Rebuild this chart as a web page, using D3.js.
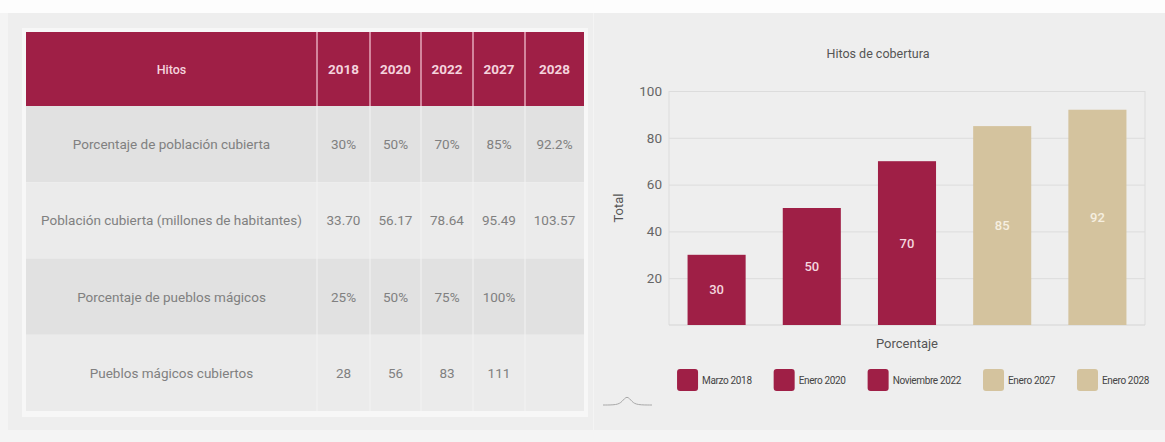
<!DOCTYPE html>
<html>
<head>
<meta charset="utf-8">
<script src="https://cdn.jsdelivr.net/npm/d3@7"></script>
<style>
  html, body { margin: 0; padding: 0; background: #f4f4f4; }
  svg { display: block; font-family: Roboto, "Open Sans", sans-serif; }
</style>
</head>
<body>
<svg id="chart" width="1165" height="442"></svg>
<script>
// ---------- DATA ----------
const tableHeader = "Hitos";
const years = ["2018", "2020", "2022", "2027", "2028"];
const rowLabels = [
  "Porcentaje de población cubierta",
  "Población cubierta (millones de habitantes)",
  "Porcentaje de pueblos mágicos",
  "Pueblos mágicos cubiertos"
];
const rowPoblacionPct = ["30%", "50%", "70%", "85%", "92.2%"];
const rowPoblacionMill = ["33.70", "56.17", "78.64", "95.49", "103.57"];
const rowPueblosPct = ["25%", "50%", "75%", "100%", ""];
const rowPueblosNum = ["28", "56", "83", "111", ""];

const chartTitle = "Hitos de cobertura";
const categories = ["Marzo 2018", "Enero 2020", "Noviembre 2022", "Enero 2027", "Enero 2028"];
const values = [30, 50, 70, 85, 92];
const yTicks = [20, 40, 60, 80, 100];
const xAxisTitle = "Porcentaje";
const yAxisTitle = "Total";

// ---------- STYLE / LAYOUT ----------
const MAROON = "#9f1f46";
const TAN = "#d4c39e";
const barColor = d3.scaleOrdinal().domain(categories)
  .range([MAROON, MAROON, MAROON, TAN, TAN]);

const svg = d3.select("#chart");

// page background: white strip at top
svg.append("rect").attr("x", 0).attr("y", 0).attr("width", 1165).attr("height", 13).attr("fill", "#fdfdfd");

// panels
svg.append("rect").attr("x", 8).attr("y", 13).attr("width", 585).attr("height", 417).attr("fill", "#eeeeee");
svg.append("rect").attr("x", 594).attr("y", 13).attr("width", 571).attr("height", 417).attr("fill", "#eeeeee");

// ---------- TABLE ----------
const rows = [rowPoblacionPct, rowPoblacionMill, rowPueblosPct, rowPueblosNum];
const colEdges = [26, 317, 370, 421, 473, 525, 584];
const headerTop = 32, headerBottom = 106, tableBottom = 411;

// white frame
svg.append("rect").attr("x", 22).attr("y", 28).attr("width", 566).attr("height", 389)
  .attr("fill", "#f7f7f7");

const rowY = d3.scaleBand().domain(d3.range(rows.length)).range([headerBottom, tableBottom]);

const tbl = svg.append("g");
// header
tbl.append("rect").attr("x", colEdges[0]).attr("y", headerTop)
  .attr("width", colEdges[6] - colEdges[0]).attr("height", headerBottom - headerTop)
  .attr("fill", MAROON);
tbl.selectAll(".hsep").data(colEdges.slice(1, 6)).enter().append("line")
  .attr("x1", d => d).attr("x2", d => d).attr("y1", headerTop).attr("y2", headerBottom)
  .attr("stroke", "#e6a9bb").attr("stroke-width", 1.5);

tbl.append("text").attr("x", (colEdges[0] + colEdges[1]) / 2).attr("y", (headerTop + headerBottom) / 2)
  .attr("text-anchor", "middle").attr("dominant-baseline", "central")
  .attr("font-size", 12.5).attr("font-weight", 500).attr("fill", "#f4d3dd").text(tableHeader);
tbl.selectAll(".yr").data(years).enter().append("text")
  .attr("x", (d, i) => (colEdges[i + 1] + colEdges[i + 2]) / 2)
  .attr("y", (headerTop + headerBottom) / 2)
  .attr("text-anchor", "middle").attr("dominant-baseline", "central")
  .attr("font-size", 13.5).attr("font-weight", 700).attr("fill", "#f4d3dd").text(d => d);

// body rows
const rowG = tbl.selectAll(".row").data(rows).enter().append("g");
rowG.append("rect").attr("x", colEdges[0]).attr("y", (d, i) => rowY(i))
  .attr("width", colEdges[6] - colEdges[0]).attr("height", rowY.bandwidth())
  .attr("fill", (d, i) => i % 2 === 0 ? "#e1e1e1" : "#ebebeb");
rowG.append("text").attr("x", (colEdges[0] + colEdges[1]) / 2)
  .attr("y", (d, i) => rowY(i) + rowY.bandwidth() / 2)
  .attr("text-anchor", "middle").attr("dominant-baseline", "central")
  .attr("font-size", 13.5).attr("fill", "#808080").text((d, i) => rowLabels[i]);
rowG.each(function (d, i) {
  d3.select(this).selectAll("text.v").data(d).enter().append("text").attr("class", "v")
    .attr("x", (v, j) => (colEdges[j + 1] + colEdges[j + 2]) / 2)
    .attr("y", rowY(i) + rowY.bandwidth() / 2)
    .attr("text-anchor", "middle").attr("dominant-baseline", "central")
    .attr("font-size", 13.5).attr("fill", "#808080").text(v => v);
});
tbl.selectAll(".bsep").data(colEdges.slice(1, 6)).enter().append("line")
  .attr("x1", d => d).attr("x2", d => d).attr("y1", headerBottom).attr("y2", tableBottom)
  .attr("stroke", "#f3f3f3").attr("stroke-width", 1);

// ---------- BAR CHART ----------
const plot = { left: 669, right: 1145, top: 91, bottom: 325 };
const x = d3.scaleBand().domain(categories).range([plot.left, plot.right])
  .paddingInner(0.39).paddingOuter(0.195);
const y = d3.scaleLinear().domain([0, 100]).range([plot.bottom, plot.top]);

const ch = svg.append("g");

ch.append("text").attr("x", (plot.left + plot.right) / 2 - 29).attr("y", 53)
  .attr("text-anchor", "middle").attr("dominant-baseline", "central")
  .attr("font-size", 12.5).attr("fill", "#555").text(chartTitle);

// grid + y axis
const yAxis = d3.axisLeft(y).tickValues(yTicks).tickSize(-(plot.right - plot.left)).tickPadding(7);
const yg = ch.append("g").attr("transform", `translate(${plot.left},0)`).call(yAxis);
yg.select(".domain").remove();
yg.selectAll(".tick line").attr("stroke", "#dcdcdc").attr("stroke-width", 1);
yg.selectAll(".tick text").attr("font-size", 13.5).attr("fill", "#666").attr("font-family", "Roboto, sans-serif");

// plot borders
ch.append("line").attr("x1", plot.left).attr("x2", plot.left).attr("y1", plot.top).attr("y2", plot.bottom)
  .attr("stroke", "#dcdcdc");
ch.append("line").attr("x1", plot.right).attr("x2", plot.right).attr("y1", plot.top).attr("y2", plot.bottom)
  .attr("stroke", "#dcdcdc");
ch.append("line").attr("x1", plot.left).attr("x2", plot.right).attr("y1", plot.bottom).attr("y2", plot.bottom)
  .attr("stroke", "#d4d4d4");

// bars
ch.selectAll(".bar").data(values).enter().append("rect")
  .attr("x", (d, i) => x(categories[i]))
  .attr("y", d => y(d))
  .attr("width", x.bandwidth())
  .attr("height", d => y(0) - y(d))
  .attr("fill", (d, i) => barColor(categories[i]));

ch.selectAll(".lbl").data(values).enter().append("text")
  .attr("x", (d, i) => x(categories[i]) + x.bandwidth() / 2)
  .attr("y", d => (y(d) + y(0)) / 2)
  .attr("text-anchor", "middle").attr("dominant-baseline", "central")
  .attr("font-size", 13).attr("font-weight", 500)
  .attr("fill", (d, i) => i < 3 ? "#f4d6df" : "#f6efe0").text(d => d);

// axis titles
ch.append("text").attr("x", (plot.left + plot.right) / 2).attr("y", 343)
  .attr("text-anchor", "middle").attr("dominant-baseline", "central")
  .attr("font-size", 13).attr("fill", "#555").text(xAxisTitle);
ch.append("text").attr("transform", `translate(618,${(plot.top + plot.bottom) / 2}) rotate(-90)`)
  .attr("text-anchor", "middle").attr("dominant-baseline", "central")
  .attr("font-size", 13).attr("fill", "#555").text(yAxisTitle);

// legend
const leg = ch.append("g");
const legItems = leg.selectAll(".li").data(categories).enter().append("g");
legItems.append("rect").attr("width", 21).attr("height", 22).attr("rx", 3).attr("ry", 3)
  .attr("y", -11).attr("fill", d => barColor(d));
legItems.append("text").attr("x", 25).attr("y", 0).attr("dominant-baseline", "central")
  .attr("font-size", 10).attr("fill", "#444").attr("letter-spacing", -0.35).text(d => d);
let cx = 0;
const offs = [];
legItems.each(function () {
  offs.push(cx);
  const w = 25 + d3.select(this).select("text").node().getComputedTextLength();
  cx += w + 22;
});
const totalW = cx - 22;
const legStart = 913 - totalW / 2;
legItems.attr("transform", (d, i) => `translate(${legStart + offs[i]},380)`);

// small decorative curve icon bottom-left of chart panel
const iconPts = [[0, 0], [14, 0], [19, -3], [24, -10], [29, -3], [34, 0], [49, 0]];
ch.append("path")
  .attr("transform", "translate(603,405)")
  .attr("d", d3.line().curve(d3.curveBasis)(iconPts))
  .attr("fill", "none").attr("stroke", "#a8a8a8").attr("stroke-width", 1);
</script>
</body>
</html>
